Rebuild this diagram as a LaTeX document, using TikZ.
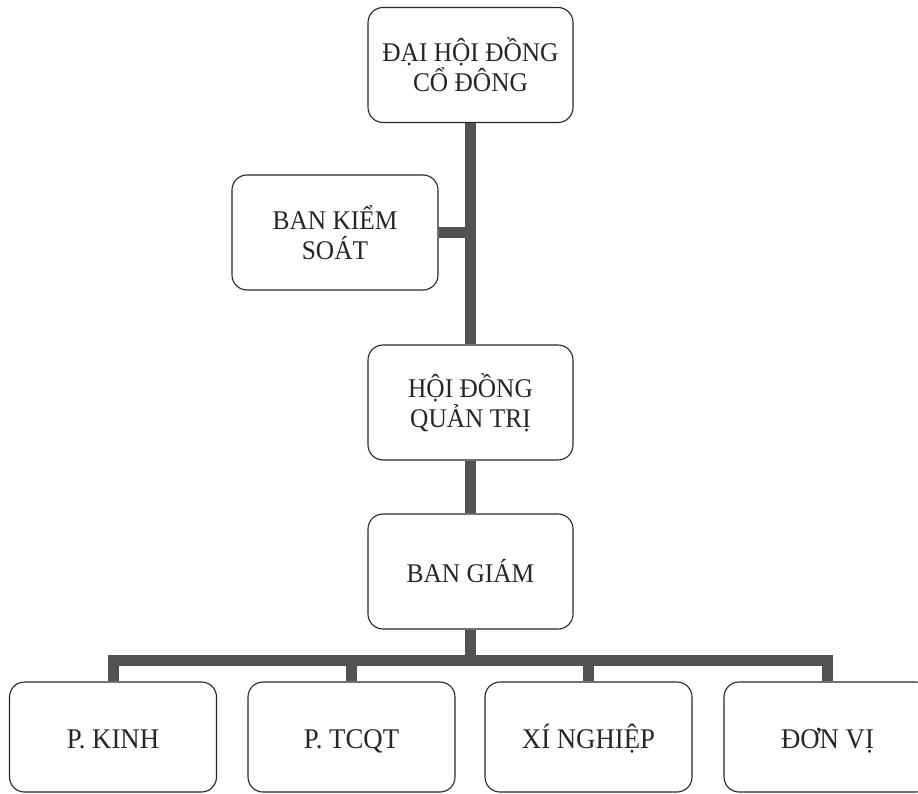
\documentclass[tikz,border=0pt]{standalone}
\usepackage{fontspec}
\setmainfont[FakeStretch=0.94]{Liberation Serif}

\tikzset{
  unit/.style={draw=black!85, line width=1.1pt, fill=white, rounded corners=15pt,
    minimum width=205pt, minimum height=115pt, inner sep=0pt, align=center,
    text=black!85, font=\fontsize{27}{30}\selectfont},
  lowunit/.style={unit, minimum width=207pt, minimum height=110pt,
    text height=24pt, text depth=1pt, font=\fontsize{28.5}{32}\selectfont},
  bar/.style={line width=11pt, draw=black!68, line join=miter}
}

\begin{document}
\begin{tikzpicture}[x=1pt,y=-1pt]
\useasboundingbox (0,0) rectangle (918,794);
\clip (0,0) rectangle (918,794);

\node[unit] (dhd) at (470.5,65) {ĐẠI HỘI ĐỒNG\\CỔ ĐÔNG};
\node[unit, minimum width=206pt] (bks) at (335,232.5) {BAN KIỂM\\SOÁT};
\node[unit] (hdqt) at (470.5,402.5) {HỘI ĐỒNG\\QUẢN TRỊ};
\node[unit] (bg) at (470.5,571.5) {BAN GIÁM};
\node[lowunit] (pkinh) at (113,737) {P. KINH};
\node[lowunit] (ptcqt) at (351.5,737) {P. TCQT};
\node[lowunit] (xn) at (588.5,737) {XÍ NGHIỆP};
\node[lowunit] (dv) at (827.5,737) {ĐƠN VỊ};

% thick connectors between the levels
\draw[bar] (dhd.south) -- (hdqt.north);
\draw[bar] (bks.east) -- (bks.east -| dhd.south);
\draw[bar] (hdqt.south) -- (bg.north);
\coordinate (bus) at (470.5,660);
\foreach \u in {pkinh,ptcqt,xn,dv}
  \draw[bar] (bg.south) -- (bus) -| (\u.north);

\end{tikzpicture}
\end{document}
